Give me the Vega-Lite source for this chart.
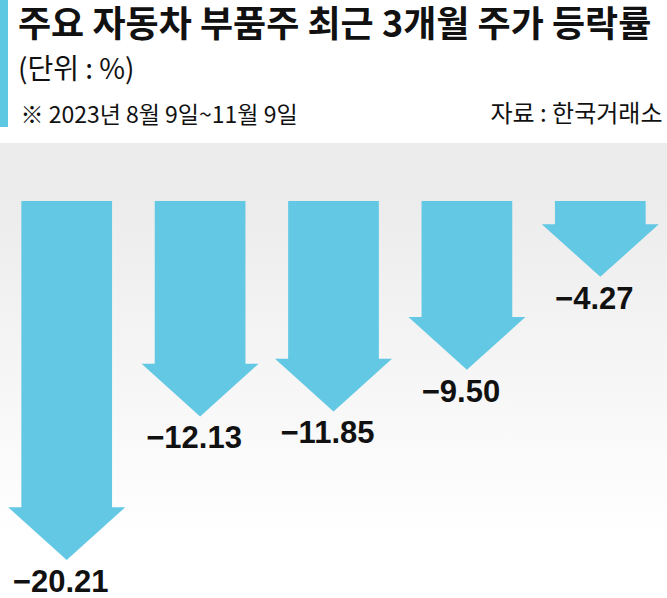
{
  "$schema": "https://vega.github.io/schema/vega-lite/v6.json",
  "width": 667,
  "height": 598,
  "padding": 0,
  "autosize": {"type": "none"},
  "background": "#ffffff",
  "config": {"view": {"stroke": null}, "font": "Noto Sans CJK KR"},
  "title": {
    "text": "주요 자동차 부품주 최근 3개월 주가 등락률",
    "subtitle": "(단위 : %)",
    "orient": "top",
    "anchor": "start",
    "frame": "group",
    "dx": 18,
    "offset": -94,
    "font": "Noto Sans CJK KR",
    "fontSize": 36,
    "fontWeight": "bold",
    "color": "#111111",
    "subtitleFont": "Noto Sans CJK KR",
    "subtitleFontSize": 28,
    "subtitleColor": "#111111",
    "subtitlePadding": 12
  },
  "data": {
    "values": [
      {"name": "HL만도", "value": -20.21},
      {"name": "에스엘", "value": -12.13},
      {"name": "한온시스템", "value": -11.85},
      {"name": "현대위아", "value": -9.50},
      {"name": "현대모비스", "value": -4.27}
    ]
  },
  "layer": [
    {
      "mark": {"type": "rect", "color": "#ececec"},
      "encoding": {
        "y": {"datum": 0, "type": "quantitative", "scale": {"domain": [-22.354, 11.318], "nice": false, "zero": false}},
        "y2": {"datum": 3.265}
      }
    },
    {
      "mark": {
        "type": "rect",
        "fill": {
          "gradient": "linear",
          "x1": 0, "y1": 0, "x2": 0, "y2": 1,
          "stops": [
            {"offset": 0, "color": "#ececec"},
            {"offset": 0.85, "color": "#ffffff"}
          ]
        }
      },
      "encoding": {
        "y": {"datum": 0, "type": "quantitative"},
        "y2": {"datum": -22.354}
      }
    },
    {
      "mark": {"type": "rule", "color": "#5ec8e2", "strokeWidth": 16},
      "encoding": {
        "x": {"datum": "HL만도", "type": "nominal", "bandPosition": 0},
        "y": {"datum": 11.318, "type": "quantitative"},
        "y2": {"datum": 4.166}
      }
    },
    {
      "mark": {"type": "bar", "width": {"band": 0.68}, "color": "#62c8e3", "yOffset": -50},
      "encoding": {
        "x": {
          "field": "name", "type": "nominal", "sort": null,
          "scale": {"paddingInner": 0, "paddingOuter": 0},
          "axis": {
            "orient": "top",
            "offset": -201,
            "domain": true,
            "domainColor": "#000000",
            "domainWidth": 2,
            "ticks": false,
            "tickSize": 0,
            "grid": false,
            "labelAngle": 0,
            "labelOverlap": false,
            "labelFont": "Noto Sans CJK KR",
            "labelFontSize": 27,
            "labelColor": "#111111",
            "labelPadding": 30,
            "labelBaseline": "middle",
            "title": "자료 : 한국거래소",
            "titleX": 662,
            "titleY": -87,
            "titleAlign": "right",
            "titleBaseline": "middle",
            "titleFont": "Noto Sans CJK KR",
            "titleFontSize": 24,
            "titleFontWeight": "normal",
            "titleColor": "#111111"
          }
        },
        "y": {
          "field": "value", "type": "quantitative",
          "axis": {
            "orient": "left",
            "domain": false,
            "ticks": false,
            "labels": false,
            "grid": false,
            "title": "※ 2023년 8월 9일~11월 9일",
            "titleAngle": 0,
            "titleX": 20,
            "titleY": 115,
            "titleAlign": "left",
            "titleBaseline": "middle",
            "titleFont": "Noto Sans CJK KR",
            "titleFontSize": 23,
            "titleFontWeight": "normal",
            "titleColor": "#111111"
          }
        },
        "y2": {"datum": 0}
      }
    },
    {
      "mark": {"type": "point", "shape": "M-1,-0.9L1,-0.9L0,0Z", "size": 13689, "filled": true, "opacity": 1, "color": "#62c8e3", "strokeWidth": 0},
      "encoding": {
        "x": {"field": "name", "type": "nominal", "sort": null},
        "y": {"field": "value", "type": "quantitative"}
      }
    },
    {
      "mark": {"type": "text", "baseline": "top", "dy": 8, "dx": -6, "fontSize": 31, "fontWeight": "bold", "font": "Liberation Sans", "color": "#111111"},
      "encoding": {
        "x": {"field": "name", "type": "nominal", "sort": null},
        "y": {"field": "value", "type": "quantitative"},
        "text": {"field": "value", "type": "quantitative", "format": ".2f"}
      }
    }
  ]
}
